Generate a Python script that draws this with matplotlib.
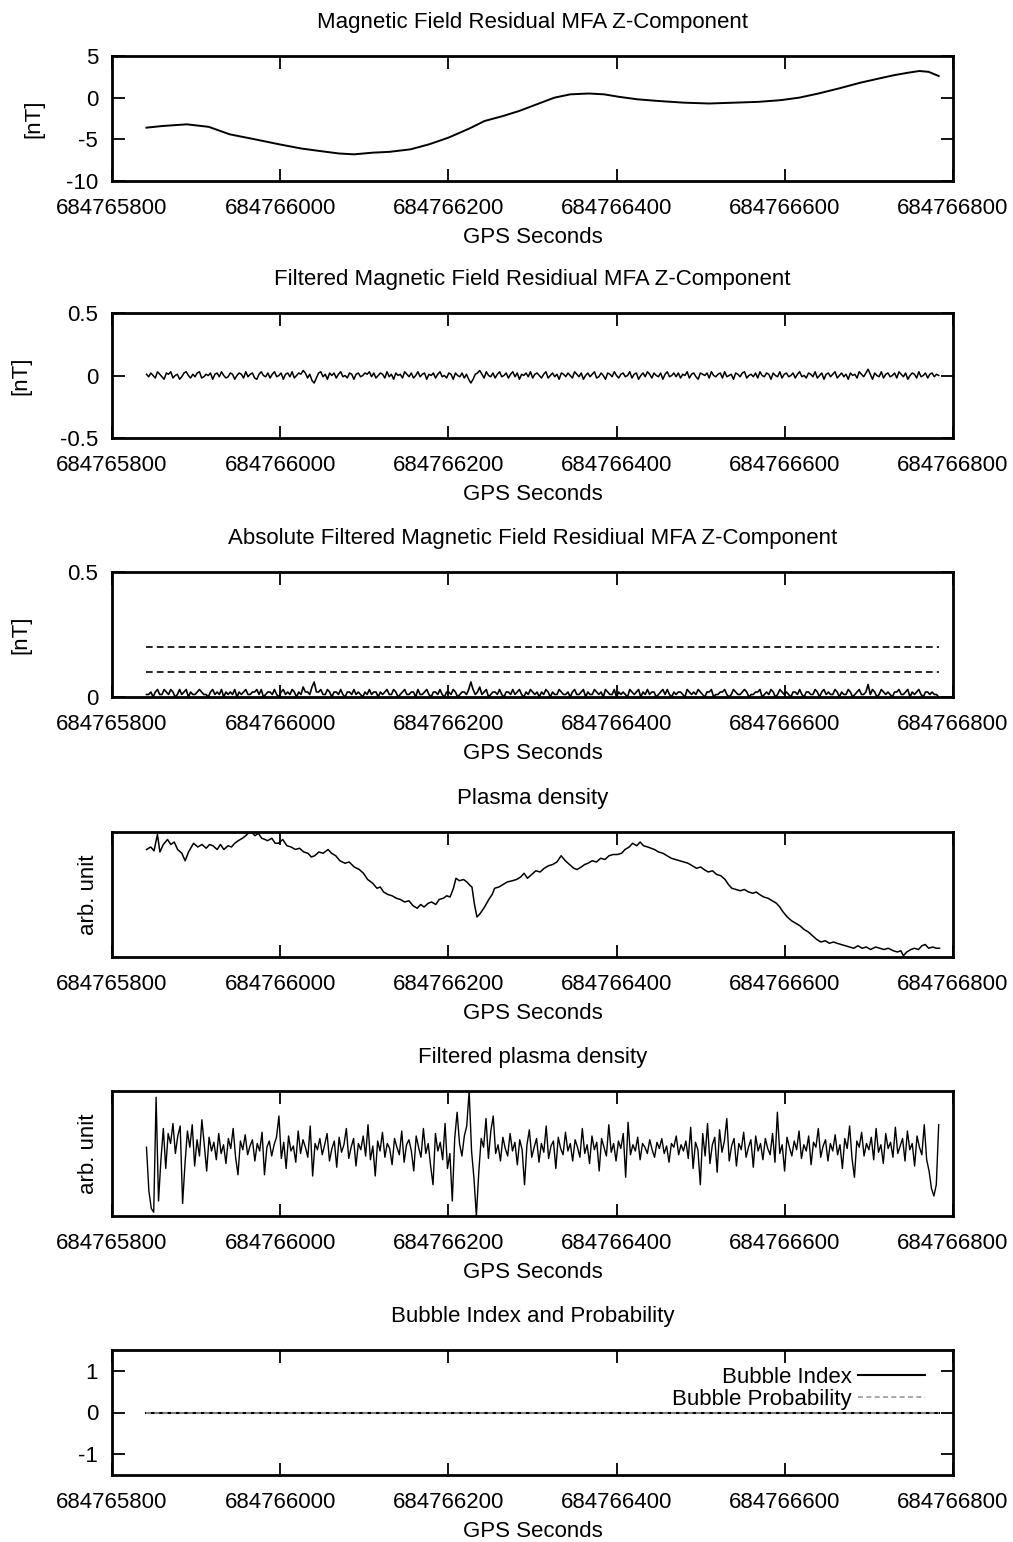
import numpy as np
import matplotlib.pyplot as plt
from matplotlib.ticker import FixedLocator, FuncFormatter

plt.rcParams['font.family'] = ['Liberation Sans', 'DejaVu Sans']
plt.rcParams['axes.unicode_minus'] = False

gps_base = 684765800
t_start = 684765841
t_end = 684766783

# --- magnetic field residual (smooth), offsets in s from gps_base
bz_off = [41, 60, 89, 115, 140, 170, 199, 225, 247, 270, 288, 310, 330, 355, 377,
          400, 425, 443, 465, 484, 505, 526, 545, 567, 585, 603, 625, 650, 680,
          710, 740, 769, 795, 817, 840, 864, 890, 912, 930, 947, 960, 971, 983]
bz_val = [-3.6, -3.4, -3.2, -3.5, -4.4, -5.0, -5.6, -6.1, -6.4, -6.7, -6.8, -6.6, -6.5,
          -6.2, -5.6, -4.8, -3.7, -2.8, -2.2, -1.6, -0.8, 0.0, 0.4, 0.5, 0.4, 0.1,
          -0.2, -0.4, -0.6, -0.7, -0.6, -0.5, -0.3, 0.0, 0.5, 1.1, 1.8, 2.3, 2.7,
          3.0, 3.2, 3.1, 2.6]

# --- filtered magnetic residual (nT), evenly sampled between t_start and t_end
bz_filt = [
    0.01, -0.01, 0.02, 0.00, -0.02, 0.03, 0.01, -0.01, -0.03, 0.02, 0.01, 0.03, -0.02, 0.00, 0.01, -0.03, -0.01, 0.02, 0.03, 0.00,
    -0.02, 0.01, -0.01, 0.02, 0.03, -0.02, -0.01, 0.01, 0.00, 0.02, -0.03, 0.01, 0.02, -0.01, 0.03, 0.00, -0.02, -0.01, 0.02, 0.01,
    -0.03, 0.00, 0.02, 0.01, -0.02, 0.03, -0.01, 0.01, 0.02, -0.02, -0.03, 0.01, 0.03, 0.00, -0.01, 0.02, -0.02, 0.01, 0.03, -0.01,
    0.00, 0.02, -0.03, 0.01, 0.02, -0.01, 0.03, -0.02, 0.00, 0.02, 0.01, 0.04, 0.02, -0.02, 0.01, -0.04, -0.06, -0.02, 0.02, 0.03,
    -0.01, 0.01, -0.03, 0.02, 0.00, 0.02, -0.02, 0.01, 0.03, -0.01, 0.00, -0.02, 0.02, 0.01, -0.03, 0.01, 0.02, -0.01, 0.00, 0.02,
    0.01, 0.03, -0.01, 0.02, -0.02, 0.00, 0.02, 0.01, -0.02, 0.03, -0.01, 0.01, -0.03, 0.02, 0.00, 0.01, -0.02, 0.03, 0.01, -0.01,
    0.02, -0.02, 0.00, 0.03, -0.01, 0.01, 0.02, -0.03, 0.01, 0.00, 0.02, -0.02, 0.01, 0.03, -0.01, 0.00, -0.02, 0.02, 0.01, -0.03,
    0.02, 0.00, -0.01, 0.02, -0.02, 0.01, -0.03, -0.06, -0.03, 0.01, 0.02, 0.04, 0.01, -0.02, 0.03, 0.00, -0.01, 0.02, -0.02, 0.01,
    0.03, -0.01, 0.00, 0.02, -0.02, 0.01, 0.03, -0.01, 0.02, -0.03, 0.01, 0.00, 0.02, -0.01, 0.03, -0.02, 0.01, 0.02, 0.00, -0.02,
    0.01, 0.03, -0.02, 0.00, 0.02, -0.01, 0.01, -0.03, 0.02, 0.01, -0.01, 0.02, 0.00, -0.02, 0.03, 0.01, -0.01, 0.02, -0.03, 0.00,
    0.02, -0.01, 0.01, 0.03, -0.02, -0.01, 0.02, 0.00, -0.03, 0.02, 0.01, -0.01, 0.03, 0.00, -0.02, 0.01, 0.02, -0.01, 0.00, 0.03,
    -0.02, 0.01, 0.02, -0.03, 0.00, 0.02, -0.01, 0.03, 0.01, -0.02, 0.02, 0.00, -0.01, 0.02, -0.03, 0.01, 0.03, -0.01, 0.00, 0.02,
    -0.01, 0.02, -0.02, 0.01, 0.00, 0.03, -0.02, 0.01, 0.02, -0.01, -0.03, 0.02, 0.01, 0.00, 0.02, -0.02, 0.03, 0.00, -0.01, 0.01,
    0.02, -0.02, 0.03, -0.01, 0.00, 0.01, -0.03, 0.02, 0.01, -0.01, 0.02, 0.03, -0.02, 0.00, 0.01, -0.01, 0.02, -0.02, 0.03, 0.00,
    -0.01, 0.02, 0.01, -0.03, 0.02, 0.00, -0.01, 0.03, -0.02, 0.01, 0.02, -0.01, 0.00, 0.02, -0.02, 0.01, 0.03, -0.01, 0.00, -0.02,
    0.02, 0.01, -0.01, 0.03, -0.02, 0.00, 0.02, -0.03, 0.01, 0.02, -0.01, 0.01, 0.03, -0.02, 0.00, 0.02, -0.01, 0.01, -0.03, 0.02,
    0.00, 0.01, -0.02, 0.03, 0.01, -0.01, 0.02, 0.05, 0.01, -0.03, 0.02, 0.00, -0.01, 0.03, -0.02, 0.01, 0.02, -0.01, 0.00, 0.02,
    -0.02, 0.03, 0.01, -0.01, 0.02, -0.03, 0.00, 0.02, 0.01, -0.02, 0.03, -0.01, 0.00, 0.02, -0.02, 0.01, 0.02, -0.01, 0.01, 0.00,
]
thresholds = [0.1, 0.2]

# --- plasma density (arb. unit), offsets in s from gps_base
ne_off = [41, 46, 50, 54, 57, 61, 66, 70, 74, 78, 83, 87, 91, 97, 102, 107, 112, 116, 120, 125,
          129, 133, 138, 142, 146, 150, 155, 159, 162, 166, 170, 174, 178, 182, 185, 190, 194, 198,
          203, 208, 213, 218, 223, 228, 233, 237, 241, 246, 251, 257, 261, 266, 271, 277, 282, 288,
          294, 299, 304, 310, 315, 319, 323, 328, 333, 338, 343, 348, 353, 358, 363, 367, 371, 376,
          380, 385, 389, 394, 398, 402, 406, 409, 413, 418, 422, 426, 428, 431, 434, 438, 443, 448,
          452, 455, 460, 465, 470, 476, 481, 486, 490, 494, 499, 504, 509, 514, 519, 524, 529, 534,
          539, 544, 549, 553, 558, 562, 566, 571, 576, 581, 586, 591, 596, 601, 606, 610, 615, 619,
          624, 628, 632, 637, 641, 645, 650, 655, 660, 665, 670, 675, 680, 685, 690, 695, 700, 704,
          709, 714, 719, 724, 729, 733, 737, 742, 747, 752, 757, 762, 766, 770, 775, 780, 785, 790,
          794, 798, 803, 808, 813, 818, 823, 828, 833, 838, 843, 848, 853, 858, 862, 867, 872, 877,
          882, 887, 892, 897, 902, 908, 913, 918, 923, 929, 934, 938, 941, 945, 950, 954, 959, 963,
          967, 971, 976, 980, 984]
ne_val = [0.86, 0.88, 0.85, 0.98, 0.84, 0.90, 0.94, 0.90, 0.92, 0.86, 0.83, 0.77, 0.84, 0.91, 0.88, 0.90, 0.87, 0.90, 0.89, 0.86,
          0.90, 0.86, 0.89, 0.88, 0.91, 0.93, 0.95, 0.97, 0.99, 1.00, 0.97, 0.99, 0.95, 0.94, 0.93, 0.95, 0.91, 0.91,
          0.94, 0.89, 0.88, 0.86, 0.87, 0.84, 0.83, 0.80, 0.81, 0.84, 0.83, 0.86, 0.83, 0.81, 0.77, 0.75, 0.76, 0.72,
          0.70, 0.67, 0.62, 0.59, 0.55, 0.56, 0.52, 0.50, 0.49, 0.47, 0.46, 0.44, 0.45, 0.41, 0.39, 0.42, 0.40, 0.43,
          0.44, 0.42, 0.46, 0.47, 0.49, 0.48, 0.55, 0.63, 0.61, 0.62, 0.60, 0.57, 0.56, 0.42, 0.32, 0.35, 0.40, 0.46,
          0.50, 0.55, 0.56, 0.58, 0.60, 0.61, 0.62, 0.64, 0.67, 0.63, 0.66, 0.69, 0.68, 0.71, 0.73, 0.74, 0.76, 0.81,
          0.77, 0.74, 0.71, 0.70, 0.72, 0.74, 0.75, 0.77, 0.76, 0.79, 0.78, 0.81, 0.82, 0.82, 0.83, 0.86, 0.88, 0.91,
          0.89, 0.92, 0.89, 0.88, 0.87, 0.86, 0.84, 0.83, 0.81, 0.79, 0.78, 0.77, 0.76, 0.75, 0.73, 0.71, 0.72, 0.70,
          0.68, 0.69, 0.66, 0.65, 0.62, 0.58, 0.55, 0.54, 0.53, 0.54, 0.52, 0.51, 0.52, 0.50, 0.48, 0.47, 0.45, 0.43,
          0.40, 0.36, 0.32, 0.29, 0.27, 0.25, 0.22, 0.20, 0.17, 0.14, 0.12, 0.13, 0.11, 0.12, 0.11, 0.10, 0.09, 0.08,
          0.07, 0.09, 0.07, 0.08, 0.06, 0.08, 0.07, 0.06, 0.07, 0.05, 0.04, 0.05, 0.01, 0.04, 0.06, 0.07, 0.06, 0.09,
          0.10, 0.07, 0.08, 0.07, 0.07]

# --- filtered plasma density (arb. unit), evenly sampled
ne_filt = [
    0.55, 0.20, 0.06, 0.03, 0.95, 0.12, 0.45, 0.70, 0.38, 0.66, 0.58, 0.74, 0.50, 0.64, 0.72,
    0.10, 0.42, 0.68, 0.55, 0.73, 0.40, 0.61, 0.48, 0.77, 0.57, 0.36, 0.63, 0.52, 0.59, 0.45,
    0.66, 0.50, 0.57, 0.42, 0.62, 0.54, 0.70, 0.47, 0.33, 0.60, 0.53, 0.65, 0.49, 0.56, 0.61,
    0.44, 0.58, 0.52, 0.67, 0.33, 0.55, 0.60, 0.48, 0.57, 0.63, 0.80, 0.46, 0.59, 0.38, 0.64,
    0.52, 0.56, 0.43, 0.68, 0.50, 0.61, 0.55, 0.47, 0.72, 0.32, 0.58, 0.53, 0.62, 0.49, 0.57,
    0.66, 0.44, 0.54, 0.60, 0.39, 0.63, 0.51, 0.57, 0.70, 0.46, 0.55, 0.62, 0.40, 0.58, 0.53,
    0.64, 0.48, 0.73, 0.45, 0.56, 0.32, 0.60, 0.52, 0.67, 0.47, 0.58, 0.54, 0.41, 0.62, 0.55,
    0.49, 0.68, 0.43, 0.57, 0.61, 0.52, 0.36, 0.64, 0.55, 0.47, 0.70, 0.50, 0.58, 0.40, 0.25,
    0.66, 0.52, 0.59, 0.45, 0.74, 0.38, 0.50, 0.12, 0.62, 0.83, 0.58, 0.48, 0.64, 0.72, 1.00,
    0.52, 0.30, 0.00, 0.35, 0.62, 0.55, 0.78, 0.46, 0.68, 0.80, 0.50, 0.57, 0.44, 0.63, 0.54,
    0.48, 0.66, 0.52, 0.59, 0.41, 0.61, 0.53, 0.25, 0.57, 0.69, 0.47, 0.55, 0.62, 0.43, 0.58,
    0.51, 0.72, 0.46, 0.56, 0.60, 0.38, 0.63, 0.54, 0.49, 0.67, 0.52, 0.58, 0.44, 0.61, 0.55,
    0.47, 0.70, 0.50, 0.57, 0.42, 0.64, 0.53, 0.59, 0.36, 0.62, 0.55, 0.48, 0.73, 0.51, 0.58,
    0.44, 0.60, 0.54, 0.66, 0.31, 0.75, 0.49, 0.57, 0.52, 0.63, 0.45, 0.58, 0.55, 0.50, 0.61,
    0.53, 0.47, 0.59, 0.54, 0.62, 0.50, 0.56, 0.43, 0.58, 0.55, 0.64, 0.49, 0.57, 0.52, 0.60,
    0.46, 0.71, 0.38, 0.59, 0.53, 0.25, 0.66, 0.48, 0.74, 0.42, 0.57, 0.63, 0.35, 0.69, 0.51,
    0.60, 0.78, 0.44, 0.56, 0.62, 0.40, 0.58, 0.53, 0.67, 0.47, 0.55, 0.61, 0.39, 0.64, 0.52,
    0.58, 0.45, 0.62, 0.54, 0.49, 0.66, 0.43, 0.83, 0.50, 0.57, 0.36, 0.63, 0.55, 0.48, 0.60,
    0.53, 0.68, 0.46, 0.57, 0.52, 0.64, 0.41, 0.59, 0.55, 0.70, 0.47, 0.56, 0.61, 0.44, 0.58,
    0.52, 0.65, 0.49, 0.57, 0.38, 0.62, 0.54, 0.72, 0.46, 0.31, 0.60, 0.55, 0.67, 0.48, 0.58,
    0.53, 0.63, 0.45, 0.70, 0.51, 0.57, 0.42, 0.66, 0.54, 0.59, 0.47, 0.71, 0.50, 0.56, 0.62,
    0.44, 0.68, 0.53, 0.58, 0.40, 0.64, 0.55, 0.49, 0.73, 0.45, 0.36, 0.22, 0.16, 0.25, 0.73,
]

# --- bubble flags
bubble_t = [t_start, t_end]
bubble_index = [0, 0]
bubble_prob = [0, 0]

xticks = [684765800, 684766000, 684766200, 684766400, 684766600, 684766800]

t_bz = gps_base + np.array(bz_off)
t_ne = gps_base + np.array(ne_off)
t_bzf = np.linspace(t_start, t_end, len(bz_filt))
t_nef = np.linspace(t_start, t_end, len(ne_filt))

fig = plt.figure(figsize=(10.13, 15.42), dpi=100)
W = 1013.0
H = 1542.0
tops = [56, 313, 572, 832, 1091, 1350]
# right edge of the rotated y label, in pixels
ylab_x = [44, 31, 31, 99, 99]

titles = ["Magnetic Field Residual MFA Z-Component",
          "Filtered Magnetic Field Residiual MFA Z-Component",
          "Absolute Filtered Magnetic Field Residiual MFA Z-Component",
          "Plasma density",
          "Filtered plasma density",
          "Bubble Index and Probability"]

fs = 16
axes = []
for i, top in enumerate(tops):
    ax = fig.add_axes([112 / W, 1 - (top + 125) / H, 841 / W, 125 / H])
    axes.append(ax)
    ax.set_xlim(684765800, 684766800)
    ax.xaxis.set_major_locator(FixedLocator(xticks))
    ax.xaxis.set_major_formatter(FuncFormatter(lambda v, p: "%d" % v))
    ax.tick_params(direction='in', length=9, width=1.3, top=True, right=True,
                   labelsize=fs, pad=10)
    ax.tick_params(axis='x', pad=12)
    for s in ax.spines.values():
        s.set_linewidth(2)
    ax.set_title(titles[i], fontsize=fs, pad=20)
    ax.set_xlabel("GPS Seconds", fontsize=fs, labelpad=6)

lc = 'black'

ax = axes[0]
ax.plot(t_bz, bz_val, color=lc, lw=1.4)
ax.set_ylim(-10, 5)
ax.set_yticks([-10, -5, 0, 5])
ax.set_ylabel("[nT]", fontsize=fs)

ax = axes[1]
ax.plot(t_bzf, bz_filt, color=lc, lw=1.1)
ax.set_ylim(-0.5, 0.5)
ax.set_yticks([-0.5, 0, 0.5])
ax.set_yticklabels(["-0.5", "0", "0.5"])
ax.set_ylabel("[nT]", fontsize=fs)

ax = axes[2]
ax.plot(t_bzf, np.abs(bz_filt), color=lc, lw=1.2)
for th in thresholds:
    ax.hlines(th, t_start, t_end, colors='black', linestyles=(0, (4, 2.5)), lw=1.2)
ax.set_ylim(0, 0.5)
ax.set_yticks([0, 0.5])
ax.set_yticklabels(["0", "0.5"])
ax.set_ylabel("[nT]", fontsize=fs)

ax = axes[3]
ax.plot(t_ne, ne_val, color=lc, lw=1.1)
ax.set_ylim(0, 1.0)
ax.set_yticks([])
ax.set_ylabel("arb. unit", fontsize=fs)

ax = axes[4]
ax.plot(t_nef, ne_filt, color=lc, lw=1.0)
ax.set_ylim(0, 1.0)
ax.set_yticks([])
ax.set_ylabel("arb. unit", fontsize=fs)

ax = axes[5]
ax.plot(bubble_t, bubble_index, color='black', lw=1.5, label="Bubble Index")
ax.plot(bubble_t, bubble_prob, color='#999999', lw=1.2, ls=(0, (3, 2)),
        label="Bubble Probability")
ax.set_ylim(-1.5, 1.5)
ax.set_yticks([-1, 0, 1])
ax.legend(loc='upper right', markerfirst=False, frameon=False, fontsize=fs,
          handlelength=3.0, handletextpad=0.3, labelspacing=0.05,
          borderaxespad=0.3, bbox_to_anchor=(0.985, 0.99))

for ax, lx in zip(axes[:5], ylab_x):
    ax.yaxis.set_label_coords((lx - 112) / 841.0, 0.5)

fig.savefig("out.png", dpi=100)
